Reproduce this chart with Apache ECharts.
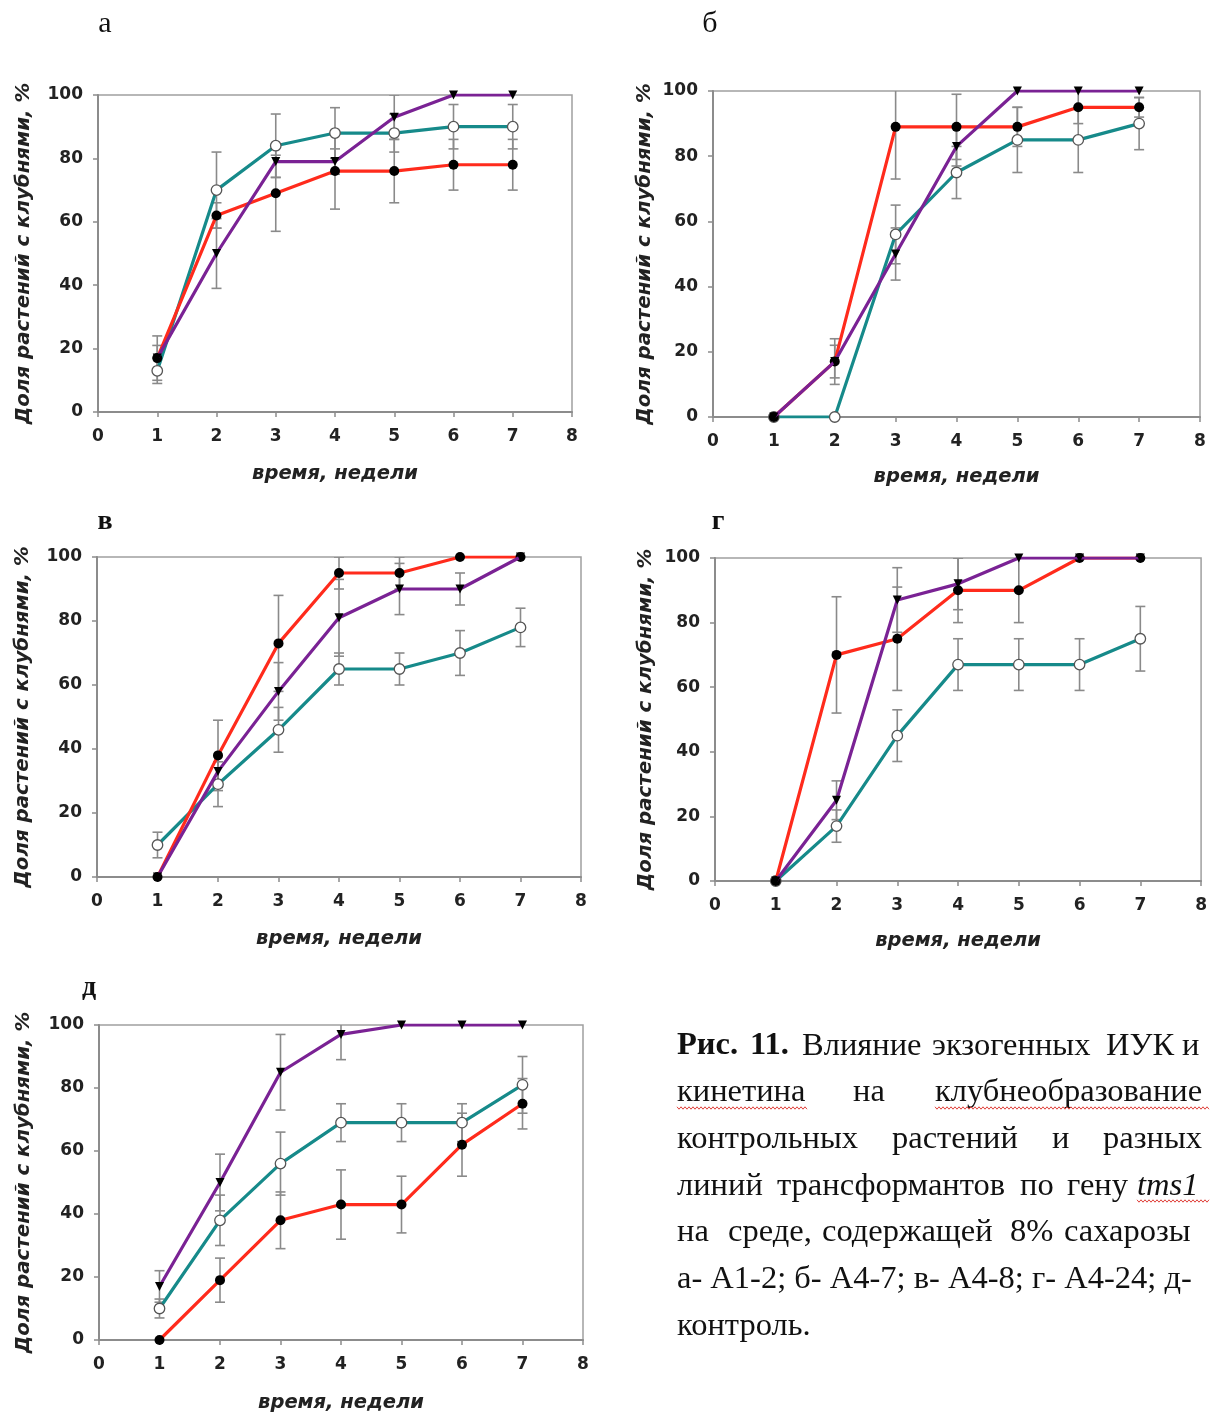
<!DOCTYPE html>
<html>
<head>
<meta charset="utf-8">
<script src="https://cdn.jsdelivr.net/npm/echarts@6/dist/echarts.min.js"></script>
<style>
  html, body { margin: 0; padding: 0; background: #fff; }
  #chart { width: 1210px; height: 1414px; }
</style>
</head>
<body>
<div id="chart"></div>
<script>
// Weeks of cultivation (x values)
const weeks = [1, 2, 3, 4, 5, 6, 7];
const xTicks = [0, 1, 2, 3, 4, 5, 6, 7, 8];
const yTicks = [0, 20, 40, 60, 80, 100];

// а – A1-2
const aRed = [17, 62, 69, 76, 76, 78, 78];
const aRedErr = [7, 4, 12, 12, 10, 8, 8];
const aTeal = [13, 70, 84, 88, 88, 90, 90];
const aTealErr = [4, 12, 10, 8, 6, 7, 7];
const aPurple = [17, 50, 79, 79, 93, 100, 100];
const aPurpleErr = [4, 11, 5, 4, 7, 0, 0];

// б – A4-7
const bRed = [0, 17, 89, 89, 89, 95, 95];
const bRedErr = [0, 7, 16, 10, 6, 5, 3];
const bTeal = [0, 0, 56, 75, 85, 85, 90];
const bTealErr = [0, 0, 9, 8, 10, 10, 8];
const bPurple = [0, 17, 50, 83, 100, 100, 100];
const bPurpleErr = [0, 5, 8, 6, 0, 0, 0];

// в – A4-8
const vRed = [0, 38, 73, 95, 95, 100, 100];
const vRedErr = [0, 11, 15, 5, 5, 0, 0];
const vTeal = [10, 29, 46, 65, 65, 70, 78];
const vTealErr = [4, 7, 7, 5, 5, 7, 6];
const vPurple = [0, 33, 58, 81, 90, 90, 100];
const vPurpleErr = [0, 5, 9, 12, 8, 5, 0];

// г – A4-24
const gRed = [0, 70, 75, 90, 90, 100, 100];
const gRedErr = [0, 18, 16, 10, 10, 0, 0];
const gTeal = [0, 17, 45, 67, 67, 67, 75];
const gTealErr = [0, 5, 8, 8, 8, 8, 10];
const gPurple = [0, 25, 87, 92, 100, 100, 100];
const gPurpleErr = [0, 6, 10, 8, 0, 0, 0];

// д – контроль
const dRed = [0, 19, 38, 43, 43, 62, 75];
const dRedErr = [0, 7, 9, 11, 9, 10, 8];
const dTeal = [10, 38, 56, 69, 69, 69, 81];
const dTealErr = [3, 8, 10, 6, 6, 6, 9];
const dPurple = [17, 50, 85, 97, 100, 100, 100];
const dPurpleErr = [5, 9, 12, 8, 0, 0, 0];

const panelLetters = ['а', 'б', 'в', 'г', 'д'];
const yTitle = 'Доля растений с клубнями, %';
const xTitle = 'время, недели';

const panels = [
  { red: aRed, redErr: aRedErr, teal: aTeal, tealErr: aTealErr, purple: aPurple, purpleErr: aPurpleErr },
  { red: bRed, redErr: bRedErr, teal: bTeal, tealErr: bTealErr, purple: bPurple, purpleErr: bPurpleErr },
  { red: vRed, redErr: vRedErr, teal: vTeal, tealErr: vTealErr, purple: vPurple, purpleErr: vPurpleErr },
  { red: gRed, redErr: gRedErr, teal: gTeal, tealErr: gTealErr, purple: gPurple, purpleErr: gPurpleErr },
  { red: dRed, redErr: dRedErr, teal: dTeal, tealErr: dTealErr, purple: dPurple, purpleErr: dPurpleErr }
];

// Layout of the five plot boxes
const boxes = [
  { left: 98, top: 95, width: 474, height: 317, yGap: 64, xGap: 52 },
  { left: 713, top: 91, width: 487, height: 326, yGap: 58, xGap: 50 },
  { left: 97, top: 557, width: 484, height: 320, yGap: 64, xGap: 52 },
  { left: 715, top: 558, width: 487, height: 323, yGap: 59, xGap: 50 },
  { left: 99, top: 1025, width: 484, height: 316, yGap: 65, xGap: 53 }
];
const letterPos = [
  { x: 105, y: 24, size: 30, weight: 'normal' },
  { x: 710, y: 24, size: 30, weight: 'normal' },
  { x: 105, y: 522, size: 28, weight: 'bold' },
  { x: 718, y: 522, size: 28, weight: 'bold' },
  { x: 89, y: 988, size: 28, weight: 'bold' }
];

const RED = '#ff2b1c';
const TEAL = '#168a8a';
const PURPLE = '#7a2294';
const AXIS = '#8c8c8c';
const SANS = 'DejaVu Sans, Verdana, sans-serif';
const SERIF = 'Liberation Serif, Times New Roman, serif';

function errData(vals, errs) {
  return weeks.map((w, i) => [w, vals[i] - errs[i], vals[i] + errs[i]]);
}
function lineData(vals) {
  return weeks.map((w, i) => [w, vals[i]]);
}

function errorBars(idx, vals, errs) {
  return {
    type: 'custom',
    xAxisIndex: idx,
    yAxisIndex: idx,
    z: 1,
    clip: true,
    silent: true,
    encode: { x: 0, y: [1, 2] },
    data: errData(vals, errs).filter((d, i) => errs[i] > 0),
    renderItem: function (params, api) {
      const x = api.value(0);
      const lo = api.coord([x, api.value(1)]);
      const hi = api.coord([x, api.value(2)]);
      const w = 5;
      const st = { stroke: '#8a8a8a', lineWidth: 1.6 };
      return {
        type: 'group',
        children: [
          { type: 'line', shape: { x1: lo[0], y1: lo[1], x2: hi[0], y2: hi[1] }, style: st },
          { type: 'line', shape: { x1: lo[0] - w, y1: lo[1], x2: lo[0] + w, y2: lo[1] }, style: st },
          { type: 'line', shape: { x1: hi[0] - w, y1: hi[1], x2: hi[0] + w, y2: hi[1] }, style: st }
        ]
      };
    }
  };
}

const grids = [], xAxes = [], yAxes = [], series = [];
boxes.forEach((b, i) => {
  grids.push({
    left: b.left, top: b.top, width: b.width, height: b.height,
    show: true, borderColor: '#a0a0a0', borderWidth: 1.5, backgroundColor: 'transparent'
  });
  xAxes.push({
    gridIndex: i, type: 'value', min: xTicks[0], max: xTicks[xTicks.length - 1], interval: 1,
    splitLine: { show: false },
    axisLine: { show: true, lineStyle: { color: AXIS, width: 2 } },
    axisTick: { show: true, length: 5, lineStyle: { color: AXIS, width: 1.5 } },
    axisLabel: { margin: 16, color: '#222', fontFamily: SANS, fontWeight: 'bold', fontSize: 17 },
    name: xTitle, nameLocation: 'middle', nameGap: b.xGap,
    nameTextStyle: { color: '#222', fontFamily: SANS, fontWeight: 'bold', fontStyle: 'italic', fontSize: 19.5 }
  });
  yAxes.push({
    gridIndex: i, type: 'value', min: yTicks[0], max: yTicks[yTicks.length - 1], interval: 20,
    splitLine: { show: false },
    axisLine: { show: true, lineStyle: { color: AXIS, width: 2 } },
    axisTick: { show: true, length: 5, lineStyle: { color: AXIS, width: 1.5 } },
    axisLabel: { margin: 15, color: '#222', fontFamily: SANS, fontWeight: 'bold', fontSize: 17 },
    name: yTitle, nameLocation: 'middle', nameGap: b.yGap, nameRotate: 90,
    nameTextStyle: { color: '#222', fontFamily: SANS, fontWeight: 'bold', fontStyle: 'italic', fontSize: 19.8 }
  });

  const p = panels[i];
  series.push(errorBars(i, p.red, p.redErr));
  series.push(errorBars(i, p.teal, p.tealErr));
  series.push(errorBars(i, p.purple, p.purpleErr));

  series.push({
    type: 'line', xAxisIndex: i, yAxisIndex: i, z: 3, data: lineData(p.teal),
    symbol: 'circle', symbolSize: 10.5,
    lineStyle: { color: TEAL, width: 3.2 },
    itemStyle: { color: '#fff', borderColor: '#555', borderWidth: 1.3 },
    silent: true, animation: false
  });
  series.push({
    type: 'line', xAxisIndex: i, yAxisIndex: i, z: 4, data: lineData(p.red),
    symbol: 'circle', symbolSize: 10,
    lineStyle: { color: RED, width: 3.2 },
    itemStyle: { color: '#000' },
    silent: true, animation: false
  });
  series.push({
    type: 'line', xAxisIndex: i, yAxisIndex: i, z: 5, data: lineData(p.purple),
    symbol: 'triangle', symbolSize: 9, symbolRotate: 180,
    lineStyle: { color: PURPLE, width: 3.2 },
    itemStyle: { color: '#000' },
    silent: true, animation: false
  });
});

// Panel letters and caption
const graphics = [];
letterPos.forEach((l, i) => {
  graphics.push({
    type: 'text', x: l.x, y: l.y,
    style: { text: panelLetters[i], font: l.weight + ' ' + l.size + 'px ' + SERIF, fill: '#111', align: 'center', verticalAlign: 'middle' }
  });
});

const CAP_SIZE = 32.5;
const captionRows = [
  { y: 1046, words: [['Рис.', 677, 'bold'], ['11.', 750, 'bold'], ['Влияние', 802], ['экзогенных', 932], ['ИУК', 1106], ['и', 1182]] },
  { y: 1092, words: [['кинетина', 677], ['на', 853], ['клубнеобразование', 935]] },
  { y: 1139, words: [['контрольных', 677], ['растений', 892], ['и', 1052], ['разных', 1103]] },
  { y: 1186, words: [['линий', 677], ['трансформантов', 777], ['по', 1020], ['гену', 1067], ['tms1', 1137, 'italic']] },
  { y: 1232, words: [['на', 677], ['среде,', 728], ['содержащей', 822], ['8%', 1010], ['сахарозы', 1064]] },
  { y: 1279, words: [['а- А1-2; б- А4-7; в- А4-8; г- А4-24; д-', 677]] },
  { y: 1326, words: [['контроль.', 677]] }
];
captionRows.forEach(row => {
  row.words.forEach(w => {
    const style = w[2] === 'bold' ? 'bold ' : (w[2] === 'italic' ? 'italic ' : '');
    graphics.push({
      type: 'text', x: w[1], y: row.y,
      style: { text: w[0], font: style + CAP_SIZE + 'px ' + SERIF, fill: '#111', align: 'left', verticalAlign: 'middle' }
    });
  });
});

// Wavy spell-check underlines beneath a few words of the caption
function wave(x1, x2, y) {
  const pts = [];
  let up = true;
  for (let x = x1; x <= x2; x += 2) { pts.push([x, y + (up ? -1.2 : 1.2)]); up = !up; }
  return { type: 'polyline', shape: { points: pts }, style: { stroke: '#e0403a', lineWidth: 1, fill: null } };
}
graphics.push(wave(677, 808, 1108));
graphics.push(wave(935, 1210, 1108));
graphics.push(wave(1137, 1210, 1201));

const chart = echarts.init(document.getElementById('chart'), null, { renderer: 'canvas' });
chart.setOption({
  animation: false,
  backgroundColor: '#fff',
  grid: grids,
  xAxis: xAxes,
  yAxis: yAxes,
  series: series,
  graphic: graphics
});
</script>
</body>
</html>
